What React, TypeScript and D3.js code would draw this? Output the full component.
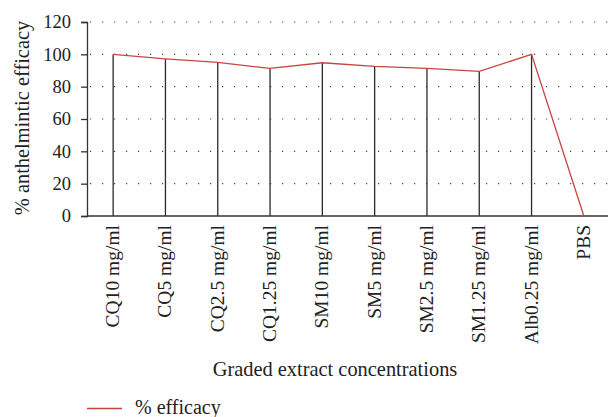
import { useEffect, useRef } from 'react'
import * as d3 from 'd3'

const categories = [
  'CQ10 mg/ml',
  'CQ5 mg/ml',
  'CQ2.5 mg/ml',
  'CQ1.25 mg/ml',
  'SM10 mg/ml',
  'SM5 mg/ml',
  'SM2.5 mg/ml',
  'SM1.25 mg/ml',
  'Alb0.25 mg/ml',
  'PBS',
]
const efficacy = [100, 97.2, 95, 91.3, 94.8, 92.5, 91.3, 89.5, 100, 0]
const yTicks = [0, 20, 40, 60, 80, 100, 120]

const W = 608
const H = 417
const FONT = '"Liberation Serif", "Times New Roman", serif'
const RED = '#c9443f'

export default function App() {
  const svgRef = useRef<SVGSVGElement>(null)

  useEffect(() => {
    document.body.style.margin = '0'
    const svgEl = svgRef.current
    if (!svgEl) return

    const margin = { top: 22, right: -2, bottom: 201, left: 87 }
    const innerW = W - margin.left - margin.right
    const innerH = H - margin.top - margin.bottom

    const x = d3.scaleBand<string>().domain(categories).range([0, innerW])
    const y = d3.scaleLinear().domain([0, 120]).range([innerH, 0])
    const cx = (c: string) => (x(c) ?? 0) + x.bandwidth() / 2

    const svg = d3.select(svgEl)
    svg.selectAll('*').remove()
    const g = svg.append('g').attr('transform', `translate(${margin.left},${margin.top})`)

    // dotted gridlines
    g.append('g')
      .selectAll('line')
      .data(yTicks.filter(t => t > 0))
      .join('line')
      .attr('x1', 0)
      .attr('x2', W - margin.left)
      .attr('y1', d => y(d))
      .attr('y2', d => y(d))
      .style('stroke', '#444')
      .style('stroke-width', '1.2')
      .style('stroke-dasharray', '1.2 10.8')
      .style('stroke-dashoffset', '-3')

    // drop lines
    g.append('g')
      .selectAll('line')
      .data(categories.map((c, i) => ({ c, v: efficacy[i] })))
      .join('line')
      .attr('x1', d => cx(d.c))
      .attr('x2', d => cx(d.c))
      .attr('y1', d => y(d.v))
      .attr('y2', innerH)
      .style('stroke', '#2a2a2a')
      .style('stroke-width', '1.3')

    // y axis
    const yAxisG = g.append('g')
    yAxisG.call(d3.axisLeft(y).tickValues(yTicks).tickSize(6).tickPadding(10))
    yAxisG.attr('font-family', null).attr('font-size', null)
    yAxisG.select('.domain').style('stroke', '#333').style('stroke-width', '1.3')
    yAxisG.selectAll('.tick line').style('stroke', '#333').style('stroke-width', '1.3')
    yAxisG.selectAll('text')
      .attr('font-family', FONT)
      .attr('font-size', 18.5)
      .style('fill', '#222')

    // x axis line
    g.append('line')
      .attr('x1', 0)
      .attr('x2', W - margin.left)
      .attr('y1', innerH)
      .attr('y2', innerH)
      .style('stroke', '#333')
      .style('stroke-width', '1.3')

    // category labels
    g.append('g')
      .selectAll('text')
      .data(categories)
      .join('text')
      .attr('transform', d => `translate(${cx(d) + 6},${innerH + 9}) rotate(-90)`)
      .attr('text-anchor', 'end')
      .attr('font-family', FONT)
      .attr('font-size', 19.5)
      .style('fill', '#222')
      .text(d => d)

    // efficacy line
    const line = d3.line<number>()
      .x((_, i) => cx(categories[i]))
      .y(d => y(d))
    g.append('path')
      .datum(efficacy)
      .attr('fill', 'none')
      .attr('d', line)
      .style('stroke', RED)
      .style('stroke-width', '1.3')

    // axis titles
    svg.append('text')
      .attr('transform', `translate(29,118) rotate(-90)`)
      .attr('text-anchor', 'middle')
      .attr('font-family', FONT)
      .attr('font-size', 20.4)
      .style('fill', '#222')
      .text('% anthelmintic efficacy')

    svg.append('text')
      .attr('x', 335)
      .attr('y', 376)
      .attr('text-anchor', 'middle')
      .attr('font-family', FONT)
      .attr('font-size', 20.4)
      .style('fill', '#222')
      .text('Graded extract concentrations')

    // legend
    const leg = svg.append('g').attr('transform', 'translate(87,408.5)')
    leg.append('line')
      .attr('x1', 0).attr('x2', 35).attr('y1', 0).attr('y2', 0)
      .style('stroke', RED).style('stroke-width', '1.3')
    leg.append('text')
      .attr('x', 48)
      .attr('y', 5.5)
      .attr('font-family', FONT)
      .attr('font-size', 20)
      .style('fill', '#222')
      .text('% efficacy')
  }, [])

  return <svg ref={svgRef} width={W} height={H} style={{ display: 'block', background: '#fff' }} />
}
